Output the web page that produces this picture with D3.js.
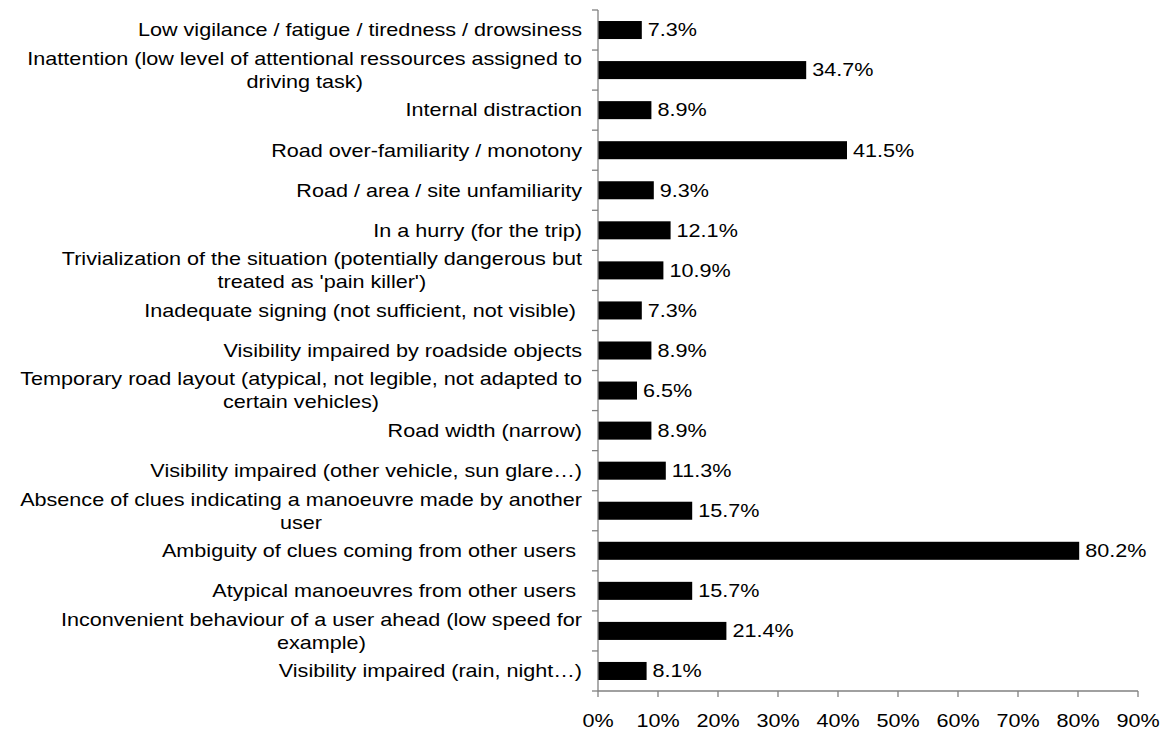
<!DOCTYPE html>
<html>
<head>
<meta charset="utf-8">
<script src="https://cdn.jsdelivr.net/npm/d3@7"></script>
<style>
  html, body { margin: 0; padding: 0; background: #fff; }
  svg { display: block; }
  text { font-family: "Liberation Sans", Arial, sans-serif; fill: #000; white-space: pre; }
</style>
</head>
<body>
<svg id="chart" width="1168" height="735"></svg>
<script>
const categories = [
  "Low vigilance / fatigue / tiredness / drowsiness",
  "Inattention (low level of attentional ressources assigned to\ndriving task)",
  "Internal distraction",
  "Road over-familiarity / monotony",
  "Road / area / site unfamiliarity",
  "In a hurry (for the trip)",
  "Trivialization of the situation (potentially dangerous but\ntreated as 'pain killer')",
  "Inadequate signing (not sufficient, not visible) ",
  "Visibility impaired by roadside objects",
  "Temporary road layout (atypical, not legible, not adapted to\ncertain vehicles)",
  "Road width (narrow)",
  "Visibility impaired (other vehicle, sun glare…)",
  "Absence of clues indicating a manoeuvre made by another\nuser",
  "Ambiguity of clues coming from other users ",
  "Atypical manoeuvres from other users ",
  "Inconvenient behaviour of a user ahead (low speed for\nexample)",
  "Visibility impaired (rain, night…)"
];
const values = [7.3, 34.7, 8.9, 41.5, 9.3, 12.1, 10.9, 7.3, 8.9, 6.5, 8.9, 11.3, 15.7, 80.2, 15.7, 21.4, 8.1];
const xTicks = [0, 10, 20, 30, 40, 50, 60, 70, 80, 90];

const FS = 18, SX = 1.2;
const mLeft = 598, mRight = 1138, mTop = 10, mBottom = 691;

const svg = d3.select("#chart");
const x = d3.scaleLinear().domain([0, 90]).range([mLeft, mRight]);
const y = d3.scaleBand().domain(d3.range(categories.length)).range([mTop, mBottom]).paddingInner(0.55).paddingOuter(0.275);
const yb = d3.scaleBand().domain(d3.range(categories.length)).range([mTop, mBottom]);

// bars
svg.append("g").selectAll("rect").data(values).join("rect")
  .attr("x", x(0))
  .attr("y", (d, i) => y(i))
  .attr("width", d => x(d) - x(0))
  .attr("height", y.bandwidth())
  .attr("fill", "#000");

// value labels
svg.append("g").selectAll("text").data(values).join("text")
  .attr("transform", (d, i) => `translate(${x(d) + 6},${yb(i) + yb.bandwidth() / 2}) scale(${SX},1)`)
  .attr("dy", "0.35em")
  .attr("font-size", FS)
  .text(d => d.toFixed(1) + "%");

// y axis line and ticks
const axisColor = "#808080";
svg.append("line").attr("x1", mLeft).attr("x2", mLeft).attr("y1", mTop).attr("y2", mBottom)
  .attr("stroke", axisColor).attr("stroke-width", 1.3);
svg.append("g").selectAll("line").data(d3.range(categories.length + 1)).join("line")
  .attr("x1", mLeft - 6).attr("x2", mLeft)
  .attr("y1", i => mTop + i * yb.step()).attr("y2", i => mTop + i * yb.step())
  .attr("stroke", axisColor).attr("stroke-width", 1.3);

// x axis
svg.append("line").attr("x1", mLeft).attr("x2", mRight).attr("y1", mBottom).attr("y2", mBottom)
  .attr("stroke", axisColor).attr("stroke-width", 1.3);
svg.append("g").selectAll("line").data(xTicks).join("line")
  .attr("x1", d => x(d)).attr("x2", d => x(d)).attr("y1", mBottom).attr("y2", mBottom + 6)
  .attr("stroke", axisColor).attr("stroke-width", 1.3);
svg.append("g").selectAll("text").data(xTicks).join("text")
  .attr("transform", d => `translate(${x(d)},${mBottom + 30}) scale(${SX},1)`)
  .attr("dy", "0.35em")
  .attr("text-anchor", "middle")
  .attr("font-size", FS)
  .text(d => d + "%");

// category labels
const labelRight = 582, lineH = 23;
const lg = svg.append("g");
categories.forEach((c, i) => {
  const lines = c.split("\n");
  const cy = yb(i) + yb.bandwidth() / 2;
  if (lines.length === 1) {
    lg.append("text")
      .attr("transform", `translate(${labelRight},${cy}) scale(${SX},1)`)
      .attr("dy", "0.35em").attr("text-anchor", "end").attr("font-size", FS)
      .text(lines[0]);
  } else {
    const nodes = lines.map((t, k) => lg.append("text")
      .attr("dy", "0.35em").attr("text-anchor", "middle").attr("font-size", FS).text(t));
    const w = d3.max(nodes, n => n.node().getComputedTextLength()) * SX;
    const cx = labelRight - w / 2;
    nodes.forEach((n, k) => {
      const ly = cy + (k - (lines.length - 1) / 2) * lineH;
      n.attr("transform", `translate(${cx},${ly}) scale(${SX},1)`);
    });
  }
});
</script>
</body>
</html>
